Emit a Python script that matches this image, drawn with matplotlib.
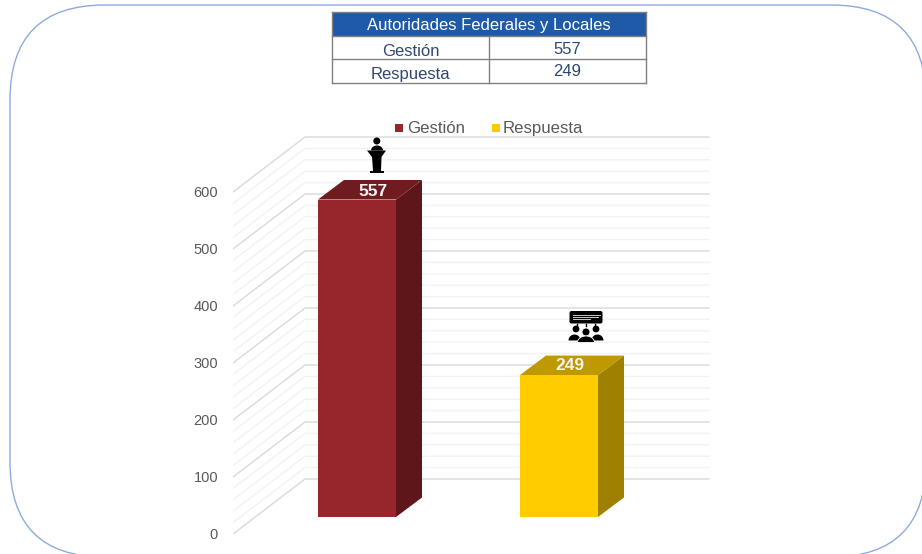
import numpy as np
import matplotlib
matplotlib.use("Agg")
import matplotlib.pyplot as plt
from matplotlib.patches import Polygon, Rectangle, FancyBboxPatch, Circle
from matplotlib.transforms import ScaledTranslation

plt.rcParams['font.family'] = ['Liberation Sans', 'DejaVu Sans']

# ---- data ----
table_title = "Autoridades Federales y Locales"
categories = ["Gestión", "Respuesta"]
values = [557, 249]
yticks = [0, 100, 200, 300, 400, 500, 600]
minor_step = 20

# ---- styles ----
front_cols = ["#96262C", "#FFCC00"]
side_cols = ["#5F161A", "#A08000"]
top_cols = ["#701B1F", "#BF9900"]
txt_gray = "#595959"
tbl_txt = "#2F4675"
W, H = 922, 554
PX_PER_UNIT = 0.57
fig = plt.figure(figsize=(W / 100, H / 100), dpi=100, facecolor="white")

# overlay in pixel coordinates for frame, table and icons
ov = fig.add_axes([0, 0, 1, 1], zorder=3)
ov.set_xlim(0, W); ov.set_ylim(H, 0); ov.axis("off"); ov.patch.set_alpha(0)
bg = fig.add_axes([0, 0, 1, 1], zorder=0)
bg.set_xlim(0, W); bg.set_ylim(H, 0); bg.axis("off")
bg.add_patch(FancyBboxPatch((10 + 95, 5 + 95), 916 - 190, 552 - 190,
                            boxstyle="round,pad=95,rounding_size=95",
                            fc="white", ec="#8FAADC", lw=1, clip_on=True))

# chart axes: y in data units, x in pixel-sized units
x0, y0 = 233, 534
ax = fig.add_axes([x0 / W, (H - y0) / H, (W - x0) / W, y0 / H], zorder=2)
ax.patch.set_alpha(0)
ax.set_xlim(x0, W)
ax.set_ylim(0, y0 / PX_PER_UNIT)
for s in ax.spines.values():
    s.set_visible(False)
ax.set_xticks([])
ax.set_yticks(yticks)
ax.set_yticklabels([str(t) for t in yticks], fontsize=10.5, color=txt_gray)
ax.tick_params(axis="y", length=0, pad=10.8)
nudge = ScaledTranslation(0, 0.7 / 72, fig.dpi_scale_trans)
for lab in ax.get_yticklabels():
    lab.set_transform(lab.get_transform() + nudge)

# oblique walls
wall_dx, wall_dy = 72, 55 / PX_PER_UNIT
wall_right = 709
for v in range(0, yticks[-1] + 1, minor_step):
    col = "#D9D9D9" if v % 100 == 0 else "#F2F2F2"
    ax.plot([x0, x0 + wall_dx, wall_right], [v, v + wall_dy, v + wall_dy],
            color=col, lw=1, zorder=1, solid_joinstyle="miter")

# 3D bars
bar_w = 78
centers = [357, 559]
label_dx = [16, 11]
label_dy = [8, 10]
base = 17 / PX_PER_UNIT
dx, dy = 26, 19.5 / PX_PER_UNIT
for c, v, fc, sc, tc, ldx, ldy in zip(centers, values, front_cols, side_cols, top_cols, label_dx, label_dy):
    l, r = c - bar_w / 2, c + bar_w / 2
    b, t = base, base + v
    ax.add_patch(Polygon([(r, b), (r + dx, b + dy), (r + dx, t + dy), (r, t)], fc=sc, ec="none", zorder=3))
    ax.add_patch(Polygon([(l, t), (r, t), (r + dx, t + dy), (l + dx, t + dy)], fc=tc, ec="none", zorder=3))
    ax.add_patch(Rectangle((l, b), bar_w, v, fc=fc, ec="none", zorder=4))
    ax.text(c + ldx, t + ldy / PX_PER_UNIT, str(v), color="#F5F5F5", fontsize=12.5, fontweight="bold",
            ha="center", va="center", zorder=5)

# legend
for sq_x, txt_x, cat, col in zip([395, 492], [407, 503], categories, front_cols):
    ov.add_patch(Rectangle((sq_x, 124), 8, 8, fc=col, ec="none"))
    ov.text(txt_x, 133, cat, color=txt_gray, fontsize=12.1, ha="left", va="baseline")

# table
tx0, tx1, tmid = 332, 646, 489
ys = [12, 36, 59, 83]
ov.add_patch(Rectangle((tx0, ys[0]), tx1 - tx0, ys[1] - ys[0], fc="#1F5AA8", ec="none"))
for y in ys:
    ov.plot([tx0, tx1], [y, y], color="#808080", lw=1)
for x in (tx0, tx1):
    ov.plot([x, x], [ys[0], ys[3]], color="#808080", lw=1)
ov.plot([tmid, tmid], [ys[1], ys[3]], color="#808080", lw=1)
ov.text((tx0 + tx1) / 2, 25.5, table_title, color="white", fontsize=12, ha="center", va="center")
for i, (cat, v) in enumerate(zip(categories, values)):
    ov.text((tx0 + tmid) / 2, ys[i + 1] + 15.5, cat, color=tbl_txt, fontsize=12, ha="center", va="center")
    ov.text((tmid + tx1) / 2, ys[i + 1] + 13, str(v), color=tbl_txt, fontsize=12, ha="center", va="center")

# podium icon
k = "black"
def dome(cx, by, w, h, **kw):
    th = np.linspace(0, np.pi, 30)
    ov.add_patch(Polygon(np.c_[cx + w / 2 * np.cos(th), by - h * np.sin(th)], **kw))

ov.add_patch(Circle((376.8, 141), 3.5, fc=k, ec="none"))
dome(377, 150.5, 12, 5, fc=k, ec="none")
ov.add_patch(Polygon([(367, 150.5), (386, 150.5), (381.5, 157), (372, 157)], fc=k, ec="none"))
ov.add_patch(Polygon([(372, 157), (381.5, 157), (381, 171), (373, 171)], fc=k, ec="none"))
ov.add_patch(Rectangle((370, 171), 13.5, 2.2, fc=k, ec="none"))

# audience icon
ov.add_patch(FancyBboxPatch((571, 312.5), 30, 9.5, boxstyle="round,pad=1.5,rounding_size=2", fc=k, ec="none"))
for xa, xb, y in [(573, 600, 314.5), (573, 598, 316.8), (573, 590, 319)]:
    ov.plot([xa, xb], [y, y], color="#C8C8C8", lw=0.7)
for x in (577, 586, 595):
    ov.plot([x, x], [323.5, 325.5], color=k, lw=1)
for x in (576, 596):
    ov.add_patch(Circle((x, 329), 3.4, fc=k, ec="none"))
for x in (574.5, 597.5):
    dome(x, 340.5, 12, 6, fc=k, ec="none")
ov.add_patch(Circle((586, 332), 4, fc=k, ec="white", lw=0.6))
dome(586, 342.5, 17, 6.5, fc=k, ec="white", lw=0.6)

fig.savefig("out.png", dpi=100, facecolor="white")
